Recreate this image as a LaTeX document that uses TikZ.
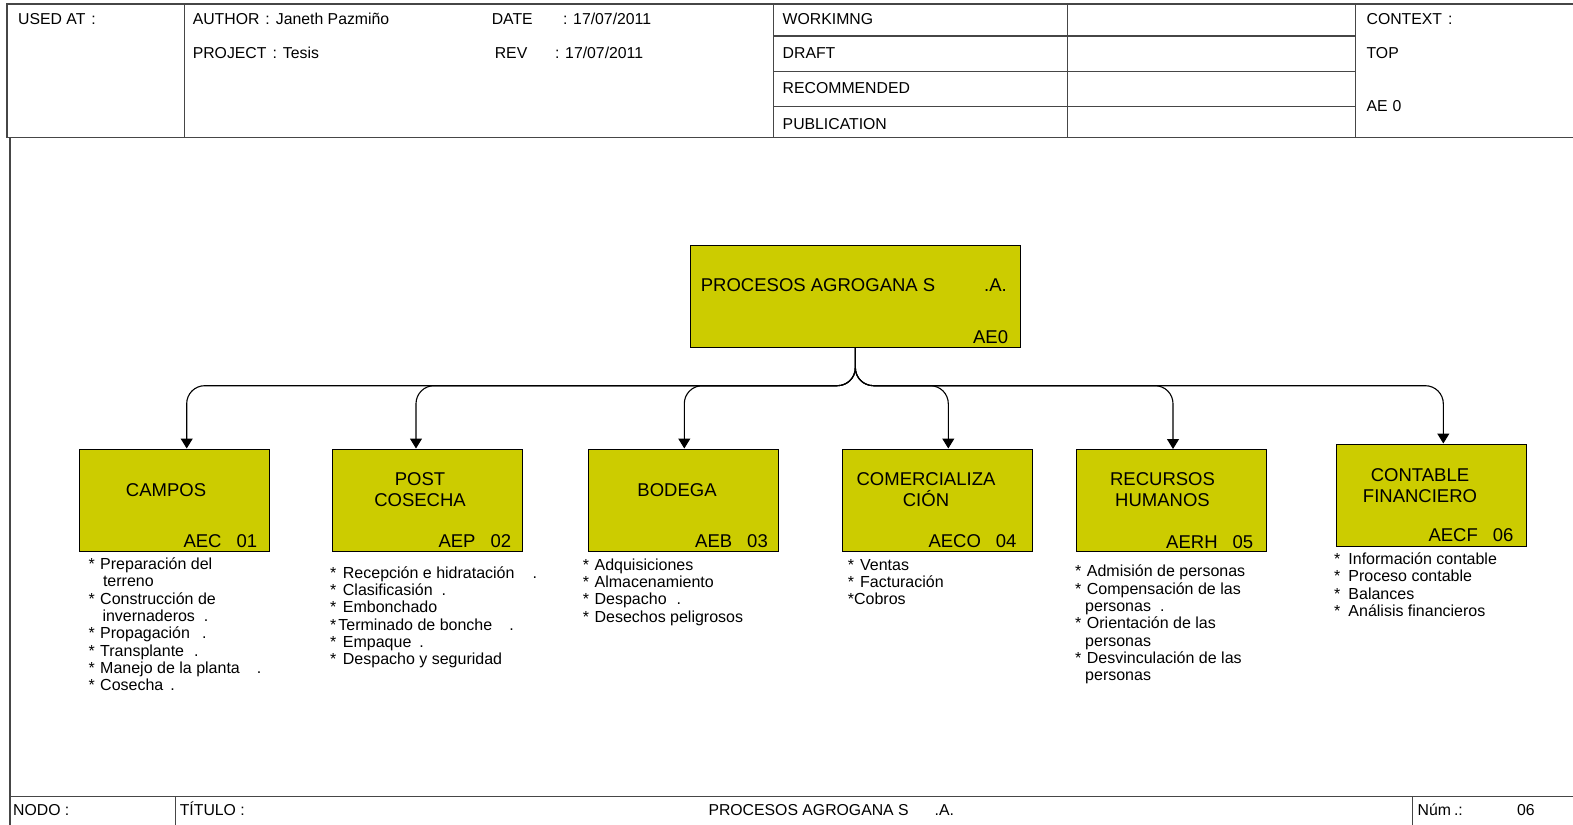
\documentclass[tikz,border=0pt]{standalone}
\usepackage{fontspec}
\setmainfont{Liberation Sans}
\usetikzlibrary{arrows.meta}
\definecolor{boxfill}{RGB}{204,204,0}
\definecolor{ruling}{RGB}{70,70,70}
% bullet star followed by a small gap
\newcommand\bitem[1][5.5pt]{*\hspace{#1}}

\begin{document}
\begin{tikzpicture}[x=1pt,y=-1pt,
  frameline/.style={draw=ruling, line width=1.3pt},
  hdrtext/.style={font=\fontsize{15.8}{18}\selectfont, anchor=base west, inner sep=0pt},
  bigtext/.style={font=\fontsize{18.5}{21.7}\selectfont, inner sep=0pt},
  boxtitle/.style={bigtext, align=center, anchor=north},
  boxcode/.style={bigtext, anchor=base west},
  proc/.style={draw=black, line width=1pt, fill=boxfill, minimum width=190pt, minimum height=102pt, inner sep=0pt},
  notelist/.style={font=\fontsize{16}{17.3}\selectfont, align=left, anchor=north west, inner sep=0pt},
  conn/.style={draw=black, line width=1.1pt, rounded corners=18pt, -{Triangle[width=12pt,length=10pt]}}
]
\useasboundingbox (0,0) rectangle (1573,824);

% ---------- header block ----------
\draw[frameline] (1580,4) -- (7,4) -- (7,137.4) -- (1580,137.4);
\foreach \xx in {184.6,773.5,1067.4,1355.3}
  \draw[frameline] (\xx,4) -- (\xx,137.4);
\foreach \yy in {36.1,71.2,106.3}
  \draw[frameline] (773.5,\yy) -- (1355.3,\yy);

\node[hdrtext] (usedat) at (18,24.7) {USED AT\hspace{6pt}:};
\node[hdrtext] (author) at (192.6,24.7) {AUTHOR\hspace{6pt}:\hspace{6pt}Janeth Pazmiño};
\node[hdrtext] (date) at (491.6,24.7) {DATE};
\node[hdrtext] (dateval) at (562.8,24.7) {: 17/07/2011};
\node[hdrtext] (project) at (192.6,58.8) {PROJECT\hspace{6pt}:\hspace{6pt}Tesis};
\node[hdrtext] (rev) at (494.6,58.8) {REV};
\node[hdrtext] (revval) at (554.8,58.8) {: 17/07/2011};
\node[hdrtext] (working) at (782.5,24.7) {WORKIMNG};
\node[hdrtext] (draft) at (782.5,58.8) {DRAFT};
\node[hdrtext] (recommended) at (782.5,93.9) {RECOMMENDED};
\node[hdrtext] (publication) at (782.5,129) {PUBLICATION};
\node[hdrtext] (context) at (1366.4,24.7) {CONTEXT\hspace{6pt}:};
\node[hdrtext] (toplabel) at (1366.4,58.8) {TOP};
\node[hdrtext] (ae0label) at (1366.4,111.9) {AE\hspace{5pt}0};

% ---------- outer frame and footer ----------
\draw[frameline] (10,137.4) -- (10,830);
\draw[frameline] (10,796.5) -- (1580,796.5);
\draw[frameline] (175.3,796.5) -- (175.3,830);
\draw[frameline] (1412.8,796.5) -- (1412.8,830);
\node[hdrtext] (nodo) at (13,815.5) {NODO :};
\node[hdrtext] (titulo) at (179.6,815.5) {TÍTULO :};
\node[hdrtext] (ftitle) at (708.3,815.5) {PROCESOS AGROGANA S\hspace{26pt}.A.};
\node[hdrtext] (num) at (1417.5,815.5) {Núm\hspace{3pt}.:};
\node[hdrtext] (numval) at (1516.8,815.5) {06};

% ---------- parent process ----------
\node[proc, minimum width=329.3pt, minimum height=102.3pt] (top) at (855.35,296.15) {};
\node[bigtext, anchor=base west] (toptitle) at (700.7,291.7) {PROCESOS AGROGANA S};
\node[bigtext, anchor=base west] (topsuffix) at (984,291.7) {.A.};
\node[bigtext, anchor=base east] (topcode) at (1008.3,343.3) {AE0};

% ---------- child processes ----------
\node[proc] (c1) at (174,500) {};
\node[proc] (c2) at (427.7,500) {};
\node[proc] (c3) at (683.3,500) {};
\node[proc] (c4) at (937.7,500) {};
\node[proc] (c5) at (1171.5,500.5) {};
\node[proc] (c6) at (1431,495) {};

\node[boxtitle] (t1) at (166,481) {\rule{0pt}{15pt}CAMPOS};
\node[boxtitle] (t2) at (420,470) {\rule{0pt}{15pt}POST\\COSECHA};
\node[boxtitle] (t3) at (677,481) {\rule{0pt}{15pt}BODEGA};
\node[boxtitle] (t4) at (926,470) {\rule{0pt}{15pt}COMERCIALIZA\\CIÓN};
\node[boxtitle] (t5) at (1162.5,470) {\rule{0pt}{15pt}RECURSOS\\HUMANOS};
\node[boxtitle] (t6) at (1420,466) {\rule{0pt}{15pt}CONTABLE\\FINANCIERO};

\node[boxcode] (k1) at (183.3,547.7) {AEC\hspace{15pt}01};
\node[boxcode] (k2) at (438.3,547.7) {AEP\hspace{15pt}02};
\node[boxcode] (k3) at (695,547.7) {AEB\hspace{15pt}03};
\node[boxcode] (k4) at (928.3,547.7) {AECO\hspace{15pt}04};
\node[boxcode] (k5) at (1166,548.3) {AERH\hspace{15pt}05};
\node[boxcode] (k6) at (1428.3,541.7) {AECF\hspace{15pt}06};

% ---------- connectors ----------
\coordinate (split) at (855.35,385.7);
\draw[conn] (top.south) -- (split) -| ([xshift=12.7pt]c1.north);
\draw[conn] (top.south) -- (split) -| ([xshift=-11.7pt]c2.north);
\draw[conn] (top.south) -- (split) -| ([xshift=1pt]c3.north);
\draw[conn] (top.south) -- (split) -| ([xshift=10.6pt]c4.north);
\draw[conn] (top.south) -- (split) -| ([xshift=1.5pt]c5.north);
\draw[conn] (top.south) -- (split) -| ([xshift=12.3pt]c6.north);

% ---------- activity lists ----------
\node[notelist] (n1) at (88.3,556.3) {\rule{0pt}{13pt}\bitem Preparación del\\
\hspace*{14.5pt}terreno\\
\bitem Construcción de\\
\hspace*{14pt}invernaderos\hspace{9pt}.\\
\bitem Propagación\hspace{12pt}.\\
\bitem Transplante\hspace{10pt}.\\
\bitem Manejo de la planta\hspace{17pt}.\\
\bitem Cosecha\hspace{7pt}.};

\node[notelist] (n2) at (330,565) {\rule{0pt}{13pt}\bitem[6.5pt]Recepción e hidratación\hspace{18pt}.\\
\bitem[6.5pt]Clasificasión\hspace{9pt}.\\
\bitem[6.5pt]Embonchado\\
*\hspace{2pt}Terminado de bonche\hspace{17pt}.\\
\bitem[6.5pt]Empaque\hspace{8pt}.\\
\bitem[6.5pt]Despacho y seguridad};

\node[notelist] (n3) at (582.7,557) {\rule{0pt}{13pt}\bitem Adquisiciones\\
\bitem Almacenamiento\\
\bitem Despacho\hspace{10pt}.\\
\bitem Desechos peligrosos};

\node[notelist] (n4) at (847.7,557) {\rule{0pt}{13pt}\bitem[6pt]Ventas\\
\bitem[6pt]Facturación\\
*Cobros};

\node[notelist] (n5) at (1075,563.7) {\rule{0pt}{13pt}\bitem Admisión de personas\\
\bitem Compensación de las\\
\hspace*{10pt}personas\hspace{9pt}.\\
\bitem Orientación de las\\
\hspace*{10pt}personas\\
\bitem Desvinculación de las\\
\hspace*{10pt}personas};

\node[notelist] (n6) at (1334,551.3) {\rule{0pt}{13pt}\bitem[8pt]Información contable\\
\bitem[8pt]Proceso contable\\
\bitem[8pt]Balances\\
\bitem[8pt]Análisis financieros};

\end{tikzpicture}
\end{document}
